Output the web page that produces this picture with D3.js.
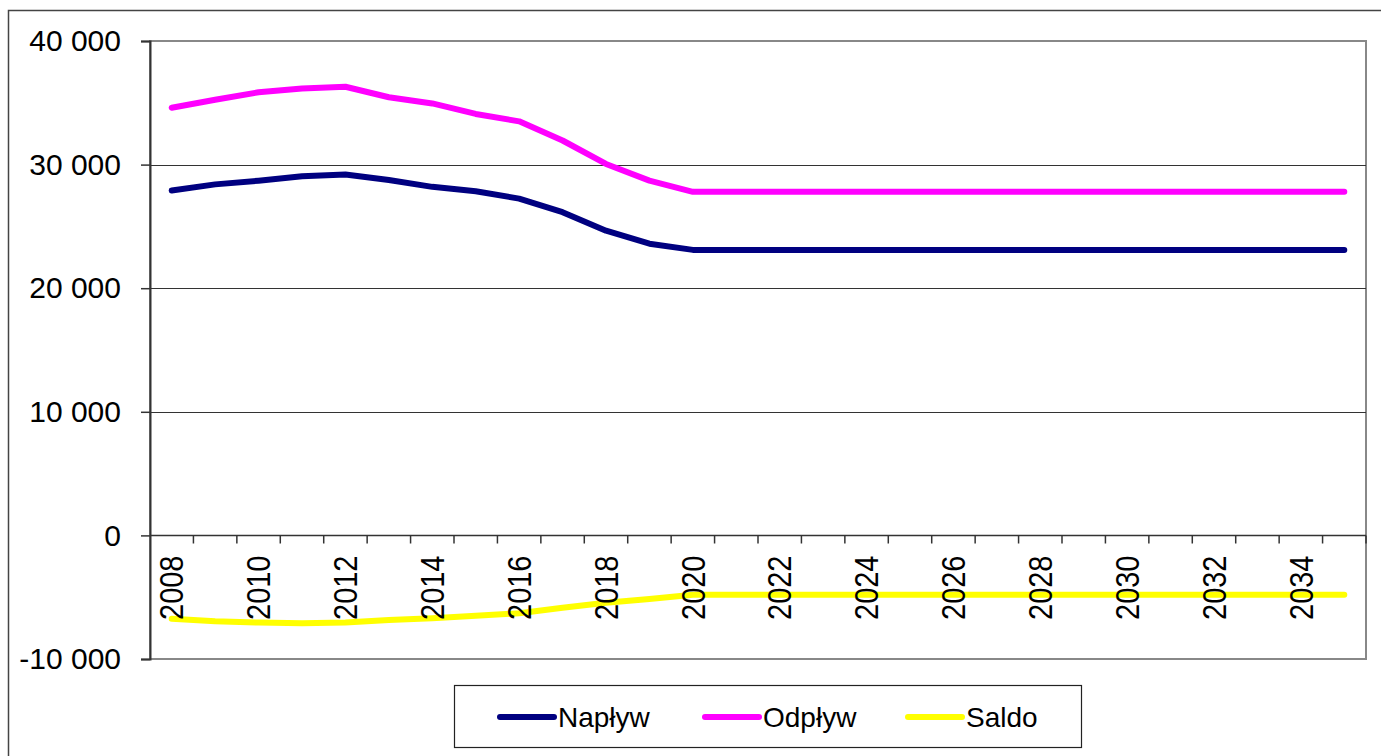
<!DOCTYPE html>
<html>
<head>
<meta charset="utf-8">
<script src="https://cdn.jsdelivr.net/npm/d3@7"></script>
<style>
  body { margin: 0; background: #fff; }
  svg { display: block; font-family: "Liberation Sans", Arial, sans-serif; }
</style>
</head>
<body>
<div id="chart"></div>
<script>
// data
const years = [2008, 2009, 2010, 2011, 2012, 2013, 2014, 2015, 2016, 2017, 2018, 2019, 2020, 2021,
  2022, 2023, 2024, 2025, 2026, 2027, 2028, 2029, 2030, 2031, 2032, 2033, 2034, 2035];
const naplyw = [27900, 28400, 28700, 29050, 29200, 28750, 28200, 27850, 27250, 26150, 24650, 23600, 23100, 23100,
  23100, 23100, 23100, 23100, 23100, 23100, 23100, 23100, 23100, 23100, 23100, 23100, 23100, 23100];
const odplyw = [34600, 35250, 35850, 36150, 36300, 35450, 34950, 34100, 33500, 31950, 30050, 28700, 27800, 27800,
  27800, 27800, 27800, 27800, 27800, 27800, 27800, 27800, 27800, 27800, 27800, 27800, 27800, 27800];
const saldo = [-6750, -6950, -7050, -7100, -7050, -6850, -6700, -6500, -6300, -5850, -5450, -5150, -4800, -4800,
  -4800, -4800, -4800, -4800, -4800, -4800, -4800, -4800, -4800, -4800, -4800, -4800, -4800, -4800];
const yTicks = [-10000, 0, 10000, 20000, 30000, 40000];
const seriesNames = ["Napływ", "Odpływ", "Saldo"];
const seriesColors = ["#000080", "#FF00FF", "#FFFF00"];

const width = 1381, height = 756;
const plot = { left: 150, right: 1366, top: 41, bottom: 659 };

const svg = d3.select("#chart").append("svg")
  .attr("width", width)
  .attr("height", height);

// outer chart frame (runs off the right/bottom edge)
svg.append("rect")
  .attr("x", 8.5).attr("y", 10.5)
  .attr("width", 1400).attr("height", 800)
  .attr("fill", "none").attr("stroke", "#444").attr("stroke-width", 1.5);

const x = d3.scaleBand()
  .domain(years)
  .range([plot.left, plot.right]);

const y = d3.scaleLinear()
  .domain([-10000, 40000])
  .range([plot.bottom, plot.top]);

// plot border (top/right/bottom grey)
svg.append("rect")
  .attr("x", plot.left).attr("y", plot.top)
  .attr("width", plot.right - plot.left).attr("height", plot.bottom - plot.top)
  .attr("fill", "none").attr("stroke", "#888").attr("stroke-width", 2);

// gridlines
svg.append("g")
  .selectAll("line")
  .data(yTicks.filter(v => v > -10000 && v < 40000))
  .enter().append("line")
  .attr("x1", plot.left).attr("x2", plot.right)
  .attr("y1", d => Math.round(y(d)) + 0.5).attr("y2", d => Math.round(y(d)) + 0.5)
  .attr("stroke", "#333").attr("stroke-width", 1.2);

// lines (under the category labels)
const lineGen = vals => d3.line()
  .x((d, i) => x(years[i]) + x.bandwidth() / 2)
  .y(d => y(d))(vals);

[naplyw, odplyw, saldo].forEach((vals, k) => {
  svg.append("path")
    .attr("d", lineGen(vals))
    .attr("fill", "none")
    .attr("stroke", seriesColors[k])
    .attr("stroke-width", 6)
    .attr("stroke-linejoin", "round")
    .attr("stroke-linecap", "round");
});

// y axis
const yAxis = d3.axisLeft(y)
  .tickValues(yTicks)
  .tickSize(9)
  .tickPadding(20)
  .tickFormat(d => d3.format(",")(d).replace(/,/g, " ").replace("−", "-"));

svg.append("g")
  .attr("transform", `translate(${plot.left},0)`)
  .call(yAxis)
  .call(g => g.select(".domain").attr("stroke", "#333").attr("stroke-width", 2))
  .call(g => g.selectAll(".tick line").attr("stroke", "#333").attr("stroke-width", 1.5))
  .selectAll("text")
  .attr("fill", "#000")
  .style("font-size", "30px");

// category axis at zero
const zeroY = Math.round(y(0)) + 0.5;
const xAxisG = svg.append("g");
xAxisG.append("line")
  .attr("x1", plot.left).attr("x2", plot.right)
  .attr("y1", zeroY).attr("y2", zeroY)
  .attr("stroke", "#333").attr("stroke-width", 1.5);
xAxisG.selectAll(".tk")
  .data(years)
  .enter().append("line")
  .attr("class", "tk")
  .attr("x1", d => x(d) + x.bandwidth()).attr("x2", d => x(d) + x.bandwidth())
  .attr("y1", zeroY).attr("y2", zeroY + 8)
  .attr("stroke", "#333").attr("stroke-width", 1.5);
xAxisG.selectAll("text")
  .data(years.filter((d, i) => i % 2 === 0))
  .enter().append("text")
  .attr("transform", d => `translate(${x(d) + x.bandwidth() / 2},${zeroY + 20}) rotate(-90) scale(1,1.12)`)
  .attr("text-anchor", "end")
  .attr("dy", "0.36em")
  .attr("fill", "#000")
  .style("font-size", "29px")
  .text(d => d);

// legend
const legend = svg.append("g");
legend.append("rect")
  .attr("x", 454.5).attr("y", 685.5)
  .attr("width", 627).attr("height", 62)
  .attr("fill", "#fff").attr("stroke", "#222").attr("stroke-width", 1.2);

const legendX = [500, 705, 908];
seriesNames.forEach((name, k) => {
  legend.append("line")
    .attr("x1", legendX[k]).attr("x2", legendX[k] + 54)
    .attr("y1", 717).attr("y2", 717)
    .attr("stroke", seriesColors[k])
    .attr("stroke-width", 6)
    .attr("stroke-linecap", "round");
  legend.append("text")
    .attr("x", legendX[k] + 58)
    .attr("y", 717)
    .attr("dy", "0.36em")
    .attr("fill", "#000")
    .style("font-size", "28px")
    .text(name);
});
</script>
</body>
</html>
